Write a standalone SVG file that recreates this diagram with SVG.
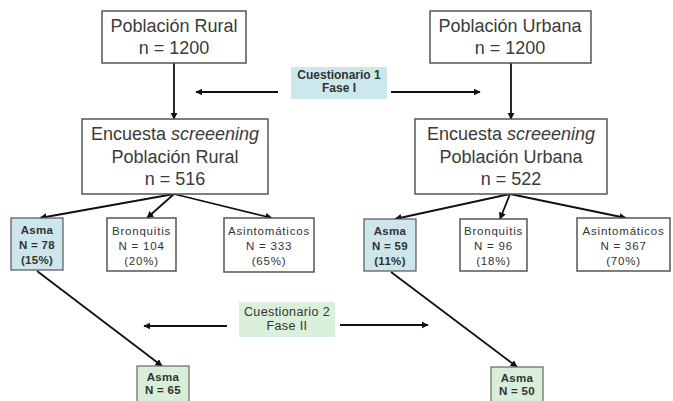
<svg xmlns="http://www.w3.org/2000/svg" width="673" height="401" viewBox="0 0 673 401">
<defs>
<marker id="ah" viewBox="0 0 10 10" refX="9" refY="5" markerWidth="4" markerHeight="4" orient="auto" markerUnits="strokeWidth">
<path d="M0,0 L10,5 L0,10 z" fill="#111"/>
</marker>
<style>
.box{fill:#fff;stroke:#555;stroke-width:1.5}
.blue{fill:#cde6ec;stroke:#555;stroke-width:1.2}
.green{fill:#d8eed8;stroke:#666;stroke-width:1.2}
.lbl{fill:#cde8ec}
.lblg{fill:#daf0da}
.big{font-family:"Liberation Sans",Arial,sans-serif;font-size:18px;fill:#3a3a3a;text-anchor:middle}
.sm{font-family:"Liberation Sans",Arial,sans-serif;font-size:11.5px;letter-spacing:0.8px;fill:#333;text-anchor:middle}
.smb{font-family:"Liberation Sans",Arial,sans-serif;font-size:11.5px;letter-spacing:0.3px;font-weight:bold;fill:#333;text-anchor:middle}
.con{stroke:#111;stroke-width:1.8;fill:none;marker-end:url(#ah)}
</style>
</defs>
<rect width="673" height="401" fill="#fff"/>
<g id="connectors">
<line class="con" x1="174" y1="63" x2="174" y2="119"/>
<line class="con" x1="511" y1="63" x2="511" y2="119"/>
<line class="con" x1="278" y1="92" x2="196" y2="92"/>
<line class="con" x1="391" y1="92" x2="480" y2="92"/>
<line class="con" x1="174" y1="194" x2="40" y2="218"/>
<line class="con" x1="174" y1="194" x2="147" y2="218"/>
<line class="con" x1="174" y1="194" x2="272" y2="218"/>
<line class="con" x1="510" y1="194" x2="395" y2="219"/>
<line class="con" x1="510" y1="194" x2="500" y2="219"/>
<line class="con" x1="510" y1="194" x2="626" y2="218"/>
<line class="con" x1="37" y1="271" x2="162" y2="366"/>
<line class="con" x1="391" y1="272" x2="517" y2="367"/>
<line class="con" x1="227" y1="326" x2="144" y2="326"/>
<line class="con" x1="340" y1="325" x2="428" y2="325"/>
</g>
<g id="rural">
<rect class="box" x="102" y="11" width="144" height="52"/>
<text class="big" x="174" y="32">Población Rural</text>
<text class="big" x="174" y="54">n = 1200</text>
</g>
<g id="urbana">
<rect class="box" x="430" y="11" width="161" height="52"/>
<text class="big" x="510" y="32">Población Urbana</text>
<text class="big" x="510" y="54">n = 1200</text>
</g>
<g id="cuest1">
<rect class="lbl" x="291" y="67" width="96" height="32"/>
<text class="smb" x="339" y="79" style="font-size:12px;letter-spacing:0">Cuestionario 1</text>
<text class="smb" x="339" y="92" style="font-size:12px;letter-spacing:0">Fase I</text>
</g>
<g id="encuesta-rural">
<rect class="box" x="82" y="119" width="186" height="75"/>
<text class="big" x="175" y="140">Encuesta <tspan font-style="italic">screeening</tspan></text>
<text class="big" x="175" y="163">Población Rural</text>
<text class="big" x="175" y="185">n = 516</text>
</g>
<g id="encuesta-urbana">
<rect class="box" x="415" y="119" width="192" height="75"/>
<text class="big" x="511" y="140">Encuesta <tspan font-style="italic">screeening</tspan></text>
<text class="big" x="511" y="163">Población Urbana</text>
<text class="big" x="511" y="185">n = 522</text>
</g>
<g id="asma-rural">
<rect class="blue" x="11" y="218" width="52" height="52"/>
<text class="smb" x="37" y="234">Asma</text>
<text class="smb" x="37" y="249">N = 78</text>
<text class="smb" x="37" y="264">(15%)</text>
</g>
<g id="bronq-rural">
<rect class="box" x="107" y="218" width="69" height="53"/>
<text class="sm" x="141.5" y="235">Bronquitis</text>
<text class="sm" x="141.5" y="250">N = 104</text>
<text class="sm" x="141.5" y="265">(20%)</text>
</g>
<g id="asint-rural">
<rect class="box" x="224" y="218" width="90" height="54"/>
<text class="sm" x="269" y="235">Asintomáticos</text>
<text class="sm" x="269" y="250">N = 333</text>
<text class="sm" x="269" y="265">(65%)</text>
</g>
<g id="asma-urbana">
<rect class="blue" x="364" y="219" width="52" height="52"/>
<text class="smb" x="390" y="235">Asma</text>
<text class="smb" x="390" y="250">N = 59</text>
<text class="smb" x="390" y="265">(11%)</text>
</g>
<g id="bronq-urbana">
<rect class="box" x="460" y="219" width="67" height="52"/>
<text class="sm" x="493.5" y="235">Bronquitis</text>
<text class="sm" x="493.5" y="250">N = 96</text>
<text class="sm" x="493.5" y="265">(18%)</text>
</g>
<g id="asint-urbana">
<rect class="box" x="577" y="218" width="93" height="53"/>
<text class="sm" x="623.5" y="235">Asintomáticos</text>
<text class="sm" x="623.5" y="250">N = 367</text>
<text class="sm" x="623.5" y="265">(70%)</text>
</g>
<g id="cuest2">
<rect class="lblg" x="239" y="302" width="96" height="35"/>
<text class="sm" x="287" y="316" style="font-size:12.5px;letter-spacing:0.4px">Cuestionario 2</text>
<text class="sm" x="287" y="330" style="font-size:12.5px;letter-spacing:0.4px">Fase II</text>
</g>
<g id="asma-final-rural">
<rect class="green" x="137" y="366" width="52" height="40"/>
<text class="smb" x="163" y="381">Asma</text>
<text class="smb" x="163" y="394">N = 65</text>
</g>
<g id="asma-final-urbana">
<rect class="green" x="491" y="367" width="52" height="40"/>
<text class="smb" x="517" y="382">Asma</text>
<text class="smb" x="517" y="395">N = 50</text>
</g>
</svg>
